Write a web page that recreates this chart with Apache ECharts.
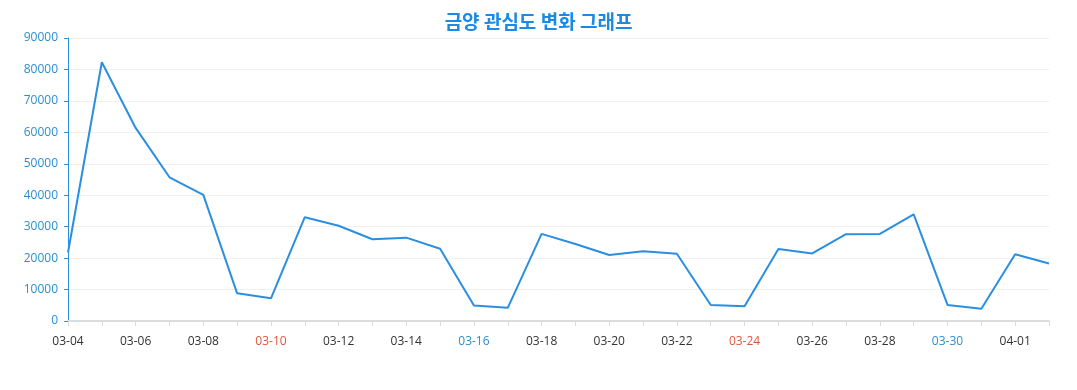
<!DOCTYPE html>
<html>
<head>
<meta charset="utf-8">
<script src="https://cdn.jsdelivr.net/npm/echarts@6/dist/echarts.min.js"></script>
<style>
html,body{margin:0;padding:0;background:#fff;}
#c{width:1077px;height:390px;}
</style>
</head>
<body>
<div id="c"></div>
<script>
const titleText = '금양 관심도 변화 그래프';
const categories = ['03-04','03-05','03-06','03-07','03-08','03-09','03-10','03-11','03-12','03-13','03-14','03-15','03-16','03-17','03-18','03-19','03-20','03-21','03-22','03-23','03-24','03-25','03-26','03-27','03-28','03-29','03-30','03-31','04-01','04-02'];
const values = [21800,82300,61400,45700,40100,8800,7200,33000,30300,26000,26500,23000,4900,4200,27700,24500,21000,22200,21400,5100,4700,22900,21500,27600,27700,33900,5100,3900,21200,18300];
const sundays = ['03-10','03-17','03-24','03-31'];
const saturdays = ['03-09','03-16','03-23','03-30'];

const chart = echarts.init(document.getElementById('c'));
chart.setOption({
  animation: false,
  textStyle: {fontFamily: '"Open Sans","Noto Sans CJK KR",sans-serif'},
  title: {
    text: titleText, left: 'center', top: 7,
    textStyle: {color: '#1a8ae5', fontSize: 19, fontWeight: 'bold', fontFamily: '"Noto Sans CJK KR",sans-serif'}
  },
  grid: {left: 68, right: 28, top: 38, bottom: 69, containLabel: false},
  xAxis: {
    type: 'category', data: categories, boundaryGap: false,
    axisLine: {lineStyle: {color: '#dcdcdc', width: 2}},
    axisTick: {show: true, interval: 0, lineStyle: {color: '#dcdcdc'}},
    axisLabel: {
      interval: 1, margin: 15, fontSize: 12,
      color: function (v) {
        if (sundays.indexOf(v) >= 0) return '#e0553a';
        if (saturdays.indexOf(v) >= 0) return '#2a8fcf';
        return '#333';
      }
    }
  },
  yAxis: {
    type: 'value', min: 0, max: 90000, interval: 10000,
    axisLine: {show: true, lineStyle: {color: '#2a8fdf'}},
    axisTick: {show: true, length: 4, lineStyle: {color: '#2a8fdf'}},
    axisLabel: {color: '#2a8fcf', fontSize: 12, margin: 10, formatter: function (v) { return String(v); }},
    splitLine: {lineStyle: {color: '#f0f0f0'}}
  },
  series: [{
    type: 'line', data: values, symbol: 'none',
    lineStyle: {color: '#2a8fe0', width: 2}
  }]
});
</script>
</body>
</html>
